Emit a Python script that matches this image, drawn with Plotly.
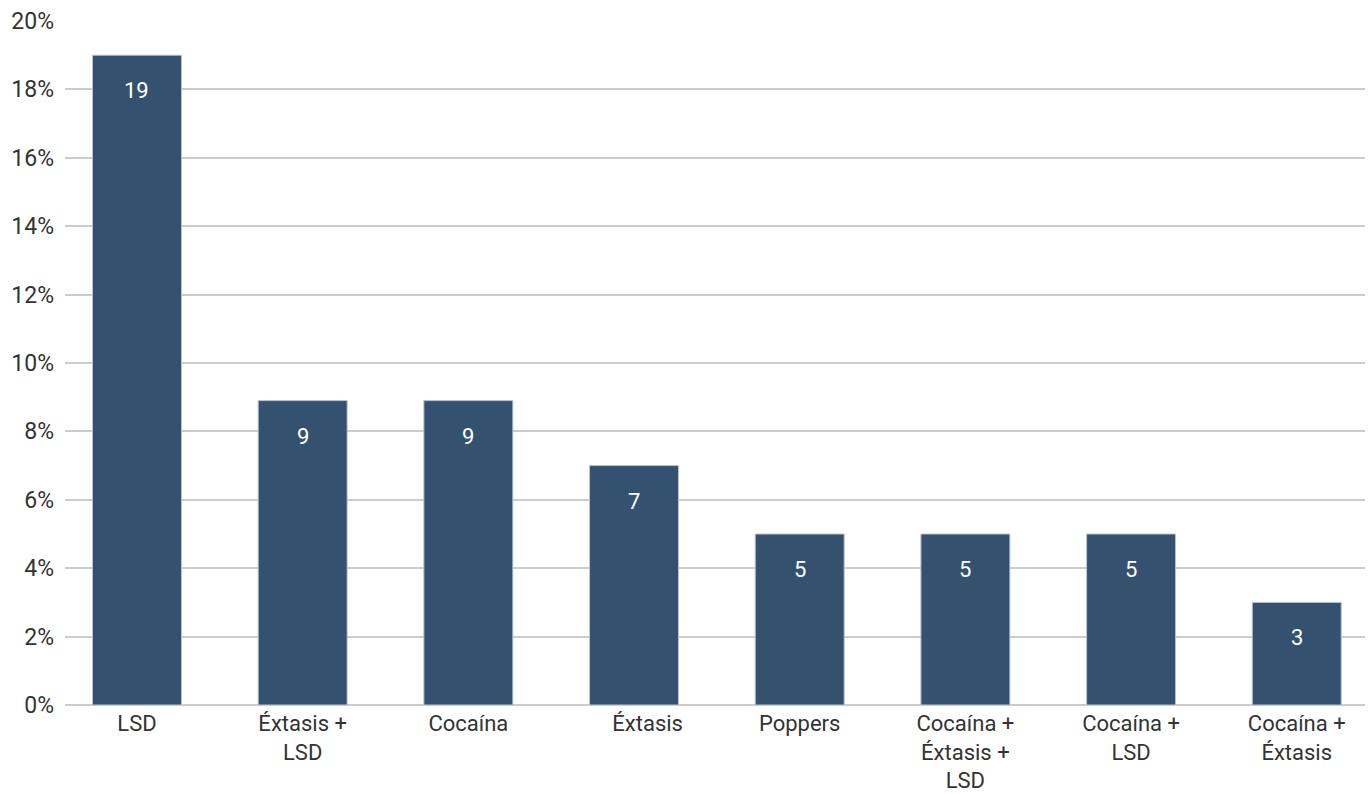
import plotly.graph_objects as go

categories = ["LSD", "Éxtasis +<br>LSD", "Cocaína", "\u00a0\u00a0\u00a0\u00a0\u00a0Éxtasis", "Poppers",
              "Cocaína +<br>Éxtasis +<br>LSD", "Cocaína +<br>LSD", "Cocaína +<br>Éxtasis"]
values = [19.0, 8.9, 8.9, 7.0, 5.0, 5.0, 5.0, 3.0]
labels = ["19", "9", "9", "7", "5", "5", "5", "3"]
y_ticks = [0, 2, 4, 6, 8, 10, 12, 14, 16, 18, 20]
y_ticklabels = [f"{v}%" for v in y_ticks]

xs = list(range(len(categories)))

fig = go.Figure()
fig.add_trace(go.Bar(
    x=xs, y=values, width=0.537,
    marker=dict(color="#34526f", line=dict(color="#b8c4d0", width=1)),
    hoverinfo="skip",
))
for x, v, t in zip(xs, values, labels):
    fig.add_annotation(x=x, y=v, text=t, showarrow=False, yanchor="top", yshift=-21,
                       font=dict(family="Roboto", size=22, color="white"))

fig.update_layout(
    width=1371, height=794,
    margin=dict(l=65, r=6, t=21, b=89),
    plot_bgcolor="white", paper_bgcolor="white",
    showlegend=False,
    font=dict(family="Roboto", size=22, color="#333333"),
    xaxis=dict(range=[-0.4345, 7.412], tickmode="array", tickvals=xs, ticktext=categories,
               showgrid=False, zeroline=False, showline=False, ticks="", tickfont=dict(size=22),
               ticklabelstandoff=3),
    yaxis=dict(range=[0, 20], tickmode="array", tickvals=y_ticks, ticktext=y_ticklabels,
               showgrid=True, gridcolor="#cccccc", gridwidth=2, zeroline=True,
               zerolinecolor="#cccccc", zerolinewidth=2, ticks="", ticklen=0,
               tickfont=dict(size=23), automargin=False, ticklabelstandoff=10),
)
fig.update_xaxes(automargin=False)
fig.write_html("out.html")
